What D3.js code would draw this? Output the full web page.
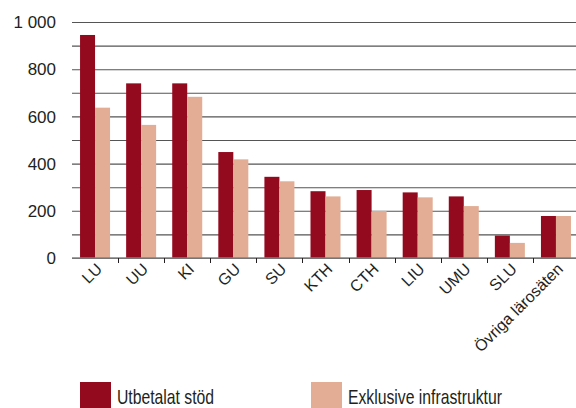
<!DOCTYPE html>
<head>
<meta charset="utf-8">
<style>
body { margin: 0; background: #fff; }
svg { display: block; }
.grid line { stroke: #555; stroke-width: 1.1; }
.grid path { display: none; }
.ylab text { font: 17px "Liberation Sans", sans-serif; fill: #231f20; }
.xlab text { font: 16px "Liberation Sans", sans-serif; fill: #231f20; }
.legend text { font: 21px "Liberation Sans", sans-serif; fill: #231f20; }
</style>
<script src="https://cdnjs.cloudflare.com/ajax/libs/d3/7.8.5/d3.min.js"></script>
</head>
<body>
<script>
"use strict";
var categories = ["LU", "UU", "KI", "GU", "SU", "KTH", "CTH", "LIU", "UMU", "SLU", "Övriga lärosäten"];
var utbetalat = [945, 740, 740, 449, 344, 283, 288, 278, 261, 95, 178];
var exklusive = [637, 564, 683, 418, 325, 261, 199, 257, 220, 64, 178];
var seriesNames = ["Utbetalat stöd", "Exklusive infrastruktur"];
var yTicks = [0, 200, 400, 600, 800, 1000];

var W = 576, H = 408;
var colors = ["#930a1f", "#e2ad94"];

var svg = d3.select("body").append("svg")
    .attr("width", W)
    .attr("height", H);

var x = d3.scaleBand()
    .domain(categories)
    .range([72, 579]);

var x1 = d3.scaleBand()
    .domain([0, 1])
    .range([0, 30]);

var y = d3.scaleLinear()
    .domain([0, 1000])
    .range([258, 22]);

// grid every 100
svg.append("g")
    .attr("class", "grid")
    .attr("transform", "translate(72,0)")
    .call(d3.axisLeft(y).ticks(10).tickSize(-(W - 72)).tickFormat(""));

// y labels
svg.append("g")
    .attr("class", "ylab")
  .selectAll("text")
    .data(yTicks)
  .enter().append("text")
    .attr("x", 56)
    .attr("y", function(d) { return y(d); })
    .attr("dy", "0.36em")
    .attr("text-anchor", "end")
    .text(function(d) { return d3.format(",")(d).replace(",", " "); });

// bars
var rows = categories.map(function(c, i) { return {cat: c, vals: [utbetalat[i], exklusive[i]]}; });
var groups = svg.append("g").selectAll("g")
    .data(rows)
  .enter().append("g")
    .attr("transform", function(d) { return "translate(" + (x(d.cat) + (x.bandwidth() - 30) / 2) + ",0)"; });

groups.selectAll("rect")
    .data(function(d) { return d.vals; })
  .enter().append("rect")
    .attr("x", function(d, i) { return x1(i); })
    .attr("width", x1.bandwidth())
    .attr("y", function(d) { return y(d); })
    .attr("height", function(d) { return y(0) - y(d); })
    .attr("fill", function(d, i) { return colors[i]; });

// x axis baseline and ticks
svg.append("line")
    .attr("x1", 72).attr("x2", W)
    .attr("y1", y(0)).attr("y2", y(0))
    .attr("stroke", "#808080").attr("stroke-width", 1.5);

svg.append("g").selectAll("line")
    .data(categories.slice(1))
  .enter().append("line")
    .attr("x1", function(d) { return Math.round(x(d)) + 0.5; })
    .attr("x2", function(d) { return Math.round(x(d)) + 0.5; })
    .attr("y1", y(0))
    .attr("y2", y(0) + 5)
    .attr("stroke", "#231f20");

// x labels
svg.append("g")
    .attr("class", "xlab")
  .selectAll("text")
    .data(categories)
  .enter().append("text")
    .attr("text-anchor", "end")
    .attr("transform", function(d) {
      return "translate(" + (x(d) + x.bandwidth() / 2 + 8) + "," + 270 + ") rotate(-45)";
    })
    .text(function(d) { return d; });

// legend
var legend = svg.append("g")
    .attr("class", "legend")
  .selectAll("g")
    .data(seriesNames)
  .enter().append("g")
    .attr("transform", function(d, i) { return "translate(" + [80, 311][i] + ",382)"; });

legend.append("rect")
    .attr("width", 31)
    .attr("height", 30)
    .attr("fill", function(d, i) { return colors[i]; });

// condensed look of the original face
legend.append("text")
    .attr("transform", "translate(37,22) scale(0.75,1)")
    .text(function(d) { return d; });
</script>
</body>
